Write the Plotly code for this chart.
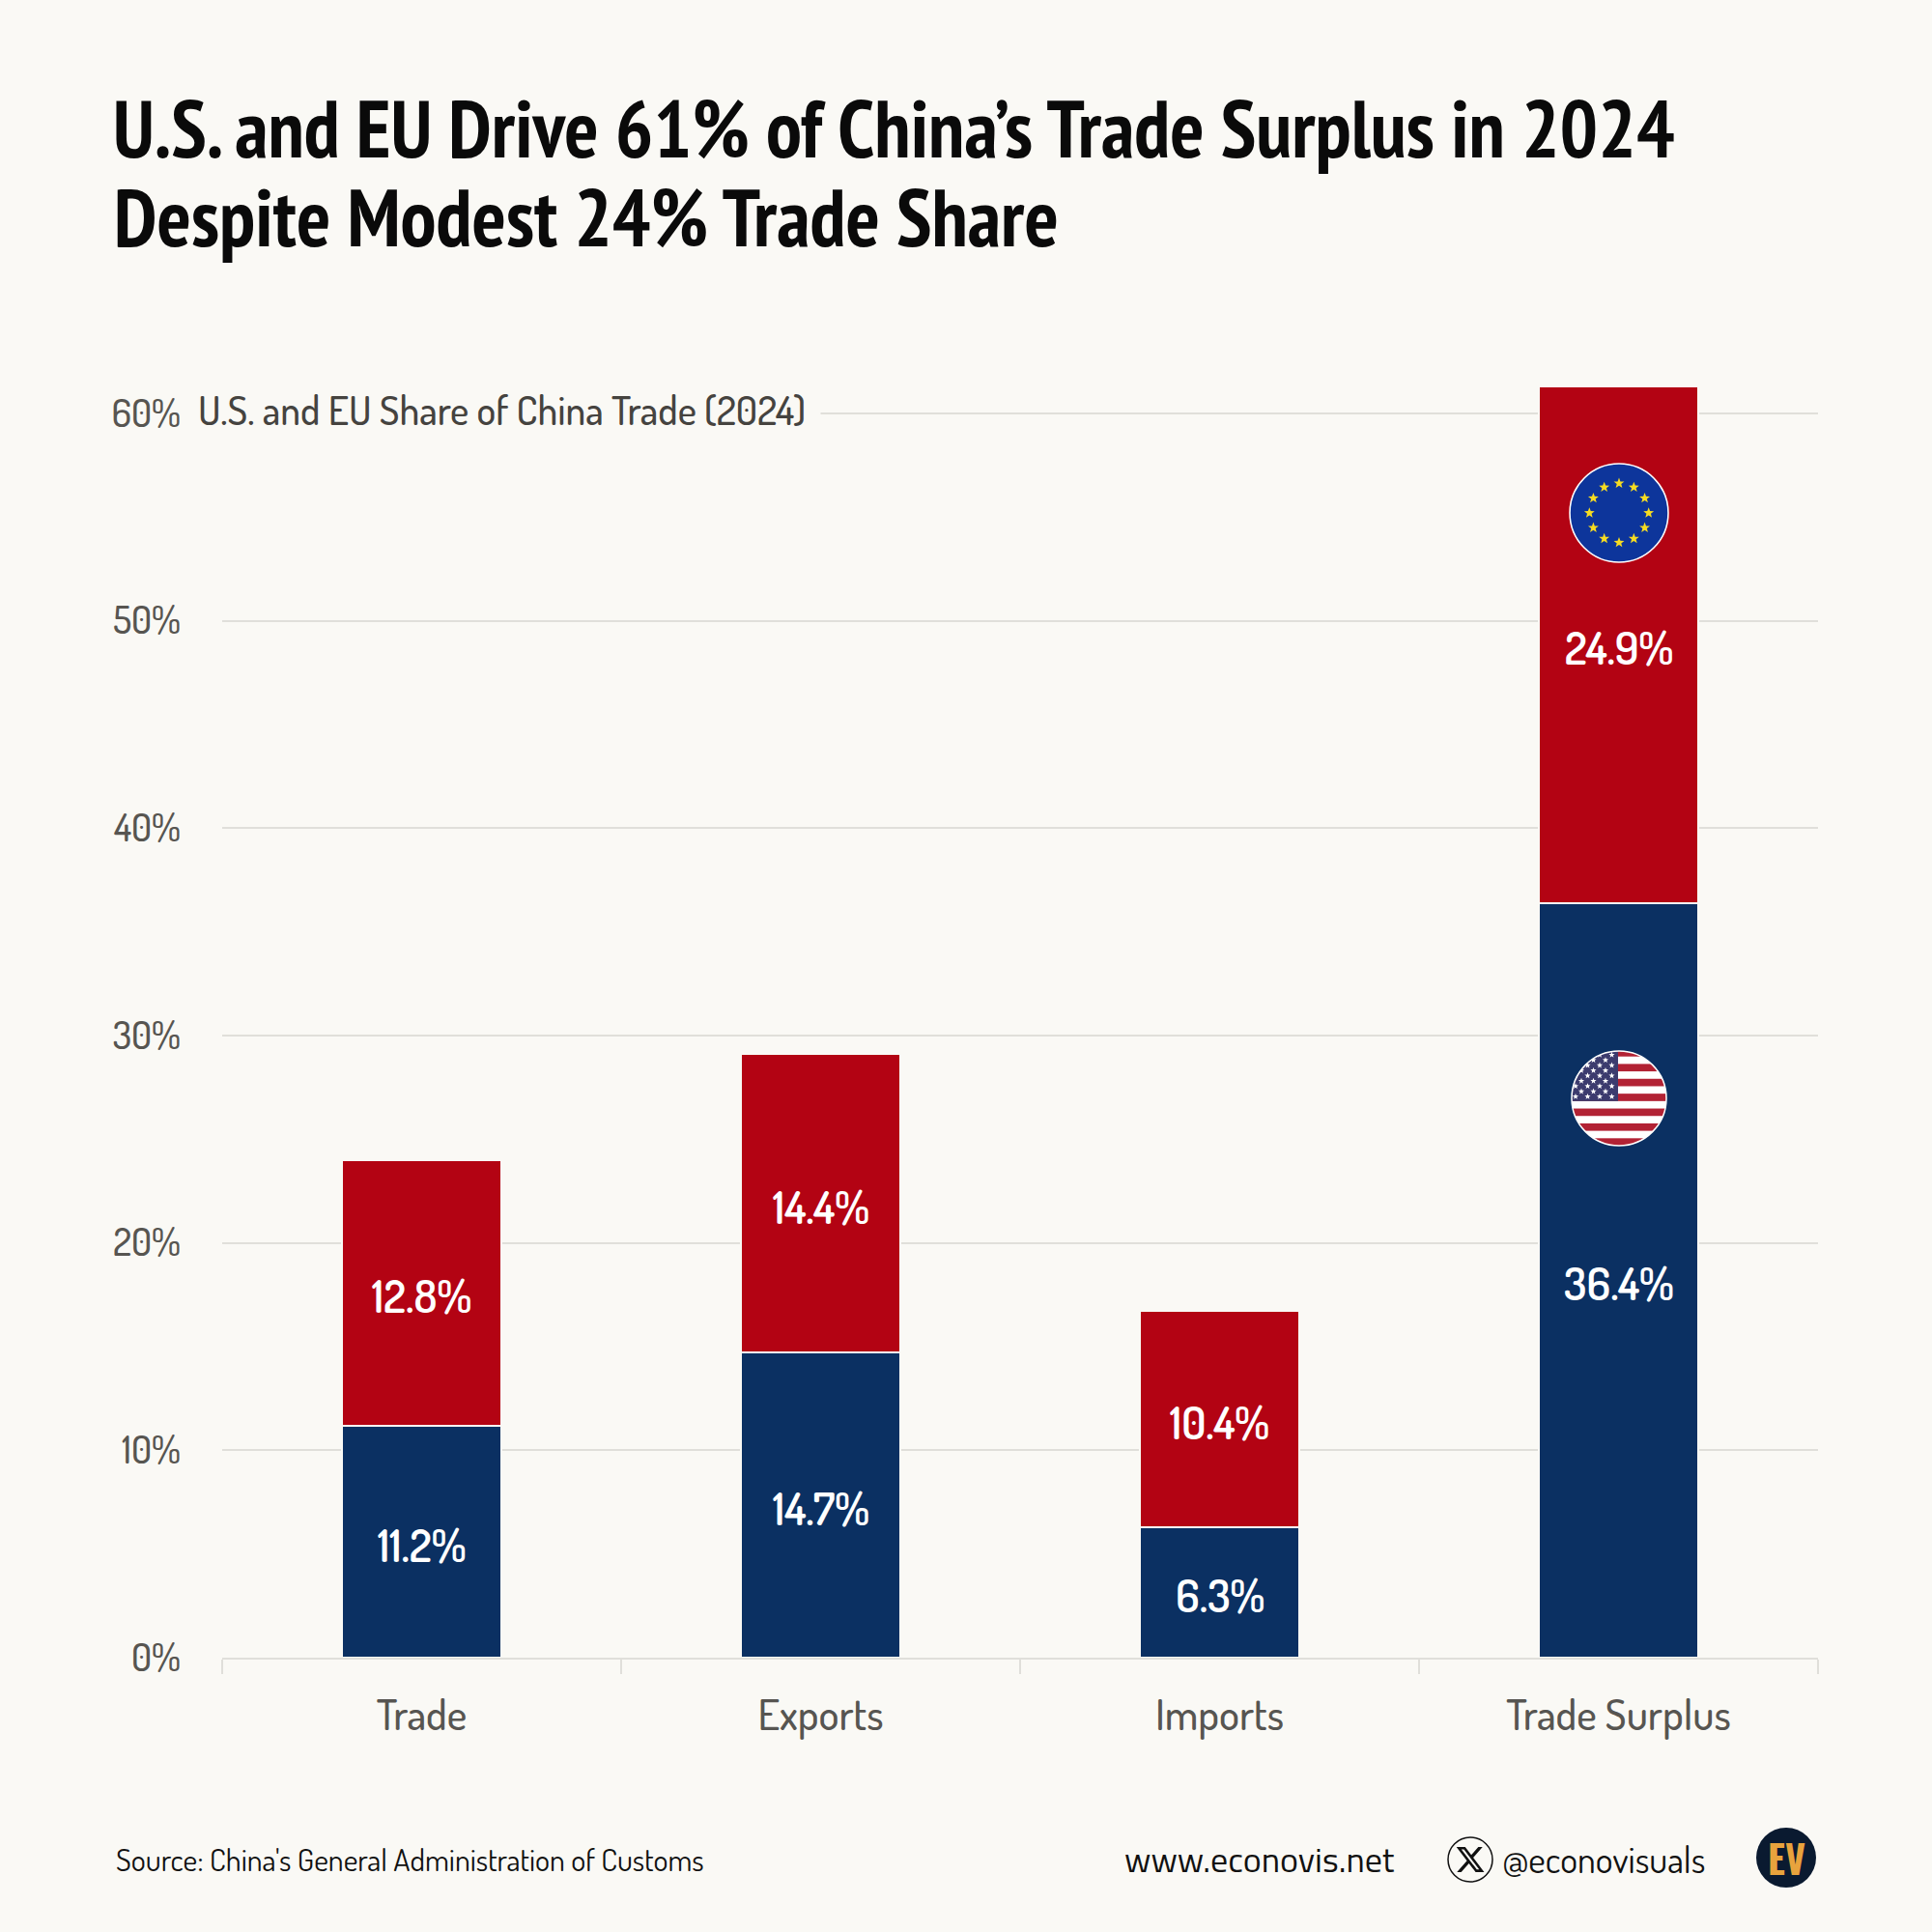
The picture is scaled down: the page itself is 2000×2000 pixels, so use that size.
import base64, math
import plotly.graph_objects as go

# ---- data ----
categories = ["Trade", "Exports", "Imports", "Trade Surplus"]
us_share = [11.2, 14.7, 6.3, 36.4]
eu_share = [12.8, 14.4, 10.4, 24.9]
y_ticks = [0, 10, 20, 30, 40, 50, 60]
y_labels = ["0%", "10%", "20%", "30%", "40%", "50%", "60%"]
title_lines = ["U.S. and EU Drive 61% of China’s Trade Surplus in 2024", "Despite Modest 24% Trade Share"]
subtitle = "U.S. and EU Share of China Trade (2024)"
source = "Source: China's General Administration of Customs"

# ---- style ----
BG = "#faf9f5"; NAVY = "#0b3062"; RED = "#b30313"; GRID = "#e0dfda"; GREY = "#575551"
L, R, T, B = 230, 1882, 385, 1716
TICK_FONT = "Dosis, Roboto, sans-serif"
TITLE_FONT = "PT Sans Narrow, Roboto Condensed, Roboto, sans-serif"

def px(x): return (x - L) / (R - L)
def py(y): return (B - y) / (B - T)

def star(cx, cy, r, fill):
    pts = []
    for i in range(10):
        a = -math.pi / 2 + i * math.pi / 5
        rr = r if i % 2 == 0 else r * 0.42
        pts.append(f"{cx + rr * math.cos(a):.2f},{cy + rr * math.sin(a):.2f}")
    return f'<polygon points="{" ".join(pts)}" fill="{fill}"/>'

def uri(svg):
    return "data:image/svg+xml;base64," + base64.b64encode(svg.encode()).decode()

def eu_flag():
    s = '<svg xmlns="http://www.w3.org/2000/svg" viewBox="0 0 200 200" width="400" height="400">'
    s += '<circle cx="100" cy="100" r="98" fill="#0d359b" stroke="#ffffff" stroke-width="3"/>'
    for i in range(12):
        a = i * math.pi / 6
        s += star(100 + 59 * math.sin(a), 100 - 59 * math.cos(a), 11, "#f6dc22")
    return uri(s + "</svg>")

def us_flag():
    s = '<svg xmlns="http://www.w3.org/2000/svg" viewBox="0 0 200 200" width="400" height="400">'
    s += '<defs><clipPath id="c"><circle cx="100" cy="100" r="98"/></clipPath></defs><g clip-path="url(#c)">'
    s += '<rect width="200" height="200" fill="#ffffff"/>'
    h = 200 / 13
    for i in range(0, 13, 2):
        s += f'<rect x="0" y="{i * h - 2:.2f}" width="200" height="{h:.2f}" fill="#b22234"/>'
    s += f'<rect x="0" y="0" width="98" height="{7 * h - 2:.2f}" fill="#3c3b6e"/>'
    for row in range(9):
        odd = row % 2
        for col in range(3 if odd else 4):
            s += star((22 if odd else 10) + col * 25, 10 + row * 10.8, 6.5, "#ffffff")
    s += '</g><circle cx="100" cy="100" r="98" fill="none" stroke="#ffffff" stroke-width="3"/>'
    return uri(s + "</svg>")

def x_icon():
    s = ('<svg xmlns="http://www.w3.org/2000/svg" viewBox="0 0 24 24" width="200" height="200">'
         '<path fill="#111" d="M18.244 2.25h3.308l-7.227 8.26 8.502 11.24H16.17l-5.214-6.817L4.99 '
         '21.75H1.68l7.73-8.835L1.254 2.25H8.08l4.713 6.231zm-1.161 17.52h1.833L7.084 4.126H5.117z"/></svg>')
    return uri(s)

fig = go.Figure()
for name, vals, color in (("U.S.", us_share, NAVY), ("EU", eu_share, RED)):
    fig.add_bar(
        x=categories, y=vals, name=name, width=0.4,
        marker=dict(color=color, line=dict(color=BG, width=2)),
        hoverinfo="skip",
    )

def note(x, y, text, size, family=TICK_FONT, color=GREY, anchor="left", weight=None, **kw):
    f = dict(family=family, size=size, color=color)
    if weight:
        f["weight"] = weight
    return dict(xref="paper", yref="paper", x=px(x), y=py(y), text=text, showarrow=False,
                xanchor=anchor, yanchor="middle", font=f, align="left", borderpad=0, **kw)

def value_label(cat, mid, value):
    return dict(xref="x", yref="y", x=cat, y=mid, text=f"{value:.1f}%", showarrow=False,
                xanchor="center", yanchor="middle", yshift=-3,
                font=dict(family=TICK_FONT, size=46, color="#ffffff", weight=600))

annotations = [
    note(117, 224.5, f"<b>{title_lines[1]}</b>", 83, family=TITLE_FONT, color="#0a0a0a"),
    note(204, 424.5, subtitle, 41.3, color="#45433f", bgcolor=BG, width=644, weight=500),
    note(119, 1924, source, 32, color="#111111"),
    note(1163, 1924, "www.econovis.net", 36, family="Titillium Web", color="#111111"),
    note(1554, 1924, "@econovisuals", 38, color="#111111"),
    note(1849, 1923, "<b>EV</b>", 40, family="Oswald, " + TITLE_FONT, color="#e8a33d", anchor="center"),
]
for cat, u, e in zip(categories, us_share, eu_share):
    annotations.append(value_label(cat, u / 2, u))
    annotations.append(value_label(cat, u + e / 2, e))

shapes = [
    dict(type="circle", xref="paper", yref="paper", x0=px(1499), x1=px(1545), y0=py(1948), y1=py(1902),
         line=dict(color="#111111", width=1.5), fillcolor="rgba(0,0,0,0)"),
    dict(type="circle", xref="paper", yref="paper", x0=px(1818), x1=px(1880), y0=py(1954), y1=py(1892),
         line=dict(width=0), fillcolor="#0a1a30"),
]

images = [
    dict(source=eu_flag(), xref="paper", yref="paper", x=px(1676), y=py(531), sizex=104 / (R - L), sizey=104 / (B - T),
         xanchor="center", yanchor="middle", layer="above", sizing="contain"),
    dict(source=us_flag(), xref="paper", yref="paper", x=px(1676), y=py(1137), sizex=100 / (R - L), sizey=100 / (B - T),
         xanchor="center", yanchor="middle", layer="above", sizing="contain"),
    dict(source=x_icon(), xref="paper", yref="paper", x=px(1522), y=py(1925), sizex=32 / (R - L), sizey=32 / (B - T),
         xanchor="center", yanchor="middle", layer="above", sizing="contain"),
]

fig.update_layout(
    width=2000, height=2000, barmode="stack", showlegend=False,
    paper_bgcolor=BG, plot_bgcolor=BG,
    margin=dict(l=L, r=2000 - R, t=T, b=2000 - B, autoexpand=False),
    title=dict(text=f"<b>{title_lines[0]}</b>", x=117 / 2000, xanchor="left",
               y=1 - 134 / 2000, yanchor="middle", xref="container",
               font=dict(family=TITLE_FONT, size=83, color="#0a0a0a")),
    xaxis=dict(type="category", range=[-0.5, 3.5], tickson="boundaries", ticks="outside", ticklen=15,
               tickwidth=2, tickcolor=GRID, showline=True, linecolor=GRID, linewidth=2, showgrid=False,
               ticklabelstandoff=20, tickfont=dict(family=TICK_FONT, size=44, color=GREY, weight=500)),
    yaxis=dict(range=[0, 62], tickmode="array", tickvals=y_ticks, ticktext=y_labels, ticks="", showline=False,
               zeroline=False, gridcolor=GRID, gridwidth=2, ticklabelstandoff=42,
               tickfont=dict(family=TICK_FONT, size=39, color=GREY, weight=500)),
    annotations=annotations, shapes=shapes, images=images,
)
fig.write_html("out.html", config=dict(displayModeBar=False),
               post_script="document.body.style.margin='0';document.body.style.background='#faf9f5';")
